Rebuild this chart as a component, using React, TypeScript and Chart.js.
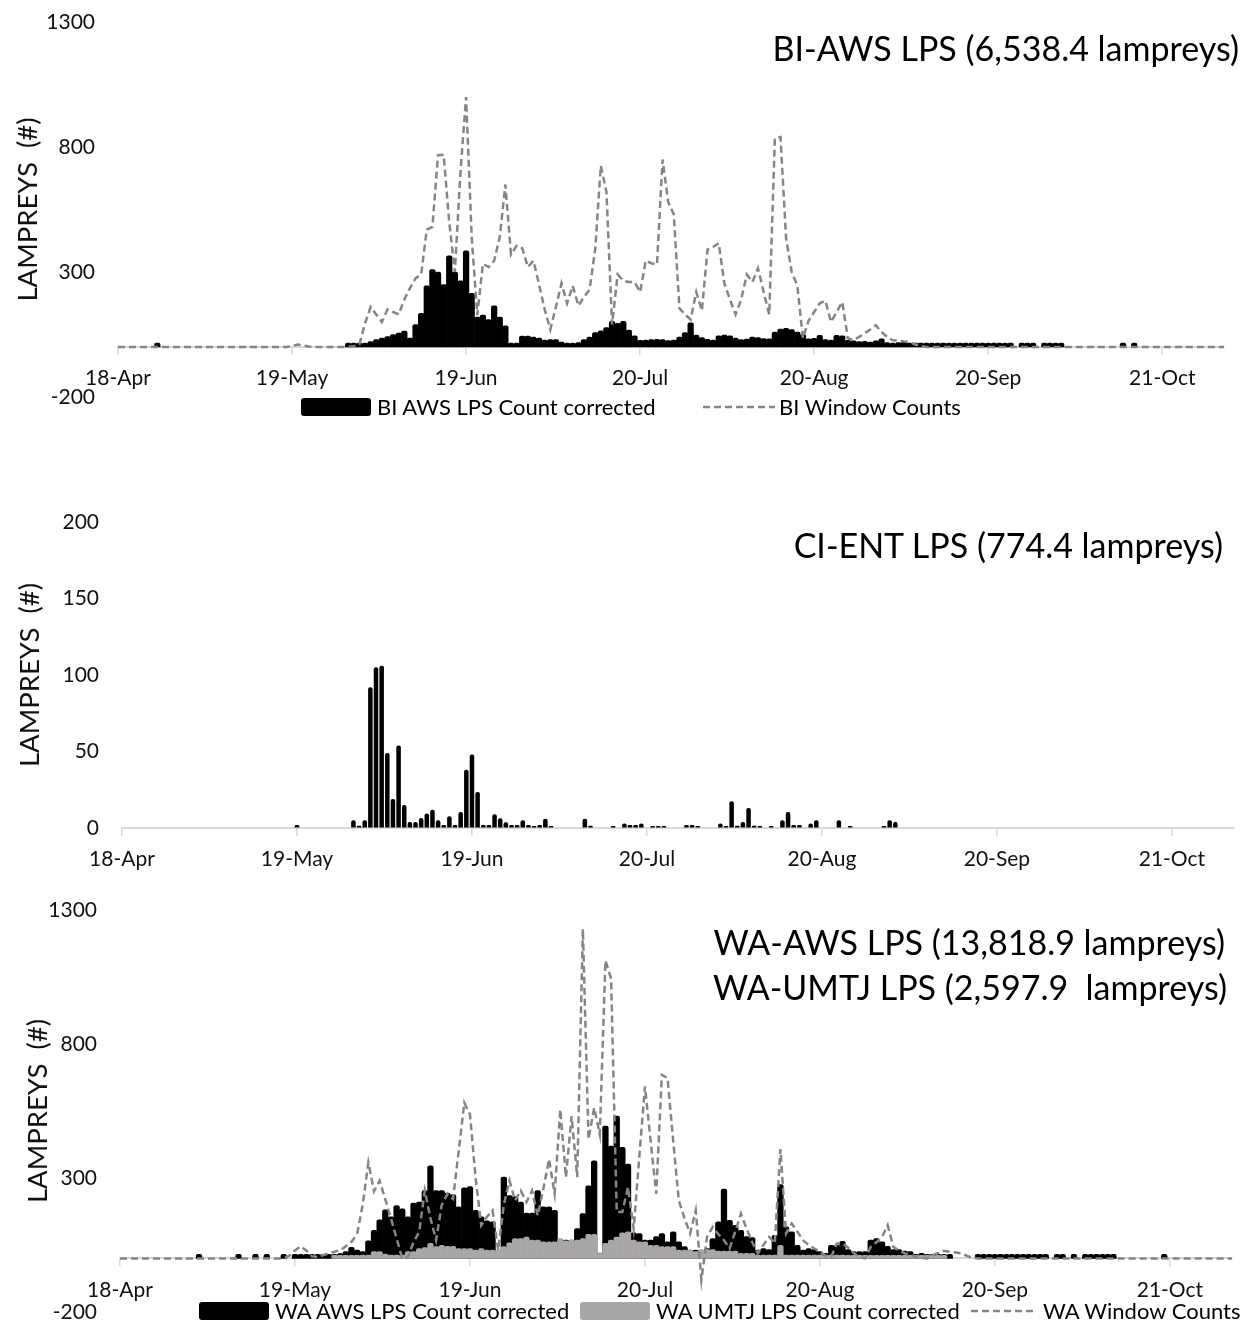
import React, { useEffect, useRef } from 'react';
import { Chart, registerables } from 'chart.js';

Chart.register(...registerables);

const FONT = 'Lato, "Open Sans", sans-serif';

// ---- axes ----
const X_MIN = 0; // 18-Apr
const X_MAX = 197; // 1-Nov
const X_TICK_DAYS = [0, 31, 62, 93, 124, 155, 186];
const X_TICK_LABELS = ['18-Apr', '19-May', '19-Jun', '20-Jul', '20-Aug', '20-Sep', '21-Oct'];
const Y_TICKS_WIDE = [-200, 300, 800, 1300];
const Y_TICKS_CI = [0, 50, 100, 150, 200];

// ---- BI (day index = days after 18-Apr) ----
const BI_AWS_START = 41;
const BI_AWS = [
  5, 5, 8, 13, 22, 30, 36, 42, 50, 56,
  64, 36, 90, 135, 245, 310, 300, 250, 365, 300,
  265, 385, 215, 120, 128, 110, 165, 120, 85, 8,
  2, 44, 44, 40, 36, 28, 30, 30, 20, 16,
  8, 18, 30, 40, 58, 65, 78, 103, 95, 103,
  68, 45, 27, 28, 30, 31, 30, 26, 28, 40,
  58, 97, 48, 38, 31, 28, 45, 48, 45, 36,
  30, 32, 40, 38, 34, 33, 60, 72, 75, 70,
  60, 50, 33, 35, 47, 30, 28, 47, 45, 27,
  25, 22, 23, 20, 25, 33, 18, 16, 18, 22,
  14, 12, 12, 10, 9, 8, 8, 7, 7, 6,
  6, 5, 5, 5, 4, 4, 3, 3, 3, null,
  2, 2, 2, null, 2, 2, 2, 2,
];
const BI_AWS_LONE_DAYS = [7, 179, 181];
const BI_AWS_LONE = [1, 1, 1];
const BI_WINDOW_START = 28;
const BI_WINDOW = [
  0, 0, 0, 4, 10, 6, 2, 0, 0, 0,
  0, 0, 0, 0, 3, 10, 95, 160, 130, 100,
  150, 140, 130, 190, 235, 275, 290, 470, 480, 767,
  769, 500, 300, 700, 1000, 440, 127, 333, 320, 345,
  440, 650, 370, 405, 395, 320, 345, 250, 150, 70,
  160, 255, 175, 245, 165, 200, 230, 390, 725, 620,
  90, 290, 265, 260, 260, 220, 345, 335, 330, 750,
  580, 530, 155, 130, 110, 220, 145, 390, 400, 415,
  255, 190, 130, 190, 290, 260, 315, 220, 130, 835,
  840, 435, 300, 245, 35, 105, 140, 175, 185, 100,
  140, 180, 35, 28, 40, 55, 70, 87, 60, 40,
  27, 25, 22, 20, 10, 4, 0, 0,
];

// ---- CI ----
const CI_ENT_START = 41;
const CI_ENT = [
  5, 1.5, 5, 92, 105, 106, 49, 19, 54, 15,
  4, 4, 6.5, 9.5, 12, 5, 2, 7.7, 2, 10.5,
  38, 48, 23.5, 2, 2, 9, 6.4, 3.7, 2, 2,
  5, 2, 1, 2, 6, 0.5, null, null, null, null,
  null, 6, 1.5, null, null, null, 1, null, 3, 2,
  2, 3, null, 1, 1, 1, null, null, null, 2,
  2, 1, null, null, null, 3, 1, 17.5, 1.5, 4,
  13, 1.5, 1, null, 1, null, 5, 10.5, 2, 2,
  null, 3, 5, null, null, null, 5, null, 1, null,
  null, null, null, null, 1, 5, 4,
];
const CI_ENT_LONE_DAYS = [31];
const CI_ENT_LONE = [2];

// ---- WA ----
const WA_AWS_START = 31;
const WA_AWS = [
  3, 4, 4, 5, 6, 6, 8, 8, 18, 25,
  41, 31, 25, 66, 105, 144, 181, 155, 197, 185,
  155, 206, 210, 253, 345, 253, 253, 244, 238, 192,
  263, 268, 179, 155, 140, 136, 31, 303, 234, 231,
  210, 169, 169, 253, 192, 192, 179, 68, 68, 68,
  111, 167, 271, 364, 20, 494, 419, 531, 414, 352,
  95, 93, 68, 68, 81, 93, 62, 99, 62, 44,
  31, 31, 31, 37, 74, 136, 259, 142, 123, 105,
  81, 78, 31, 37, 33, 86, 275, 118, 99, 49,
  31, 37, 33, 25, 19, 49, 49, 64, 33, 25,
  25, 25, 68, 74, 62, 45, 33, 33, 27, 25,
  12, 19, 8, 5, 4, 3, 2, null, null, null,
  null, 2, 2, 2, 2, 2, 2, 2, 2, 2,
  2, 2, 2, 2, null, 2, 2, null, 2, null,
  2, 2, 3, 2, 2, 2,
];
const WA_AWS_LONE_DAYS = [14, 21, 24, 26, 29, 185];
const WA_AWS_LONE = [2, 2, 2, 2, 2, 2];
const WA_UMTJ_START = 38;
const WA_UMTJ = [
  8, 8, 8, 8, 8, 12, 12, 25, 25, 16,
  12, 12, 12, 25, 25, 37, 40, 56, 44, 49,
  45, 45, 37, 37, 37, 31, 37, 31, 31, 31,
  44, 58, 74, 74, 80, 68, 68, 62, 62, 62,
  74, 66, 68, 68, 74, 90, 90, 19, 56, 68,
  80, 95, 99, 68, 62, 62, 49, 49, 44, 44,
  44, 31, 31, 31, 25, 33, 33, 33, 27, 27,
  27, 27, 19, 19, 19, 12, 12, 12, 12, 49,
  12, 12, 12, 12, 12, 12, 12, 12, 12, 12,
  12, 8, 8, 8, 8, 8, 8, 8, 8, 8,
  8, 8, 8, 8, 8, 8, 5, 4, 3,
];
const WA_WINDOW_START = 28;
const WA_WINDOW = [
  0, 0, 10, 30, 45, 30, 8, 5, 12, 19,
  25, 30, 45, 62, 90, 200, 358, 250, 290, 220,
  150, 75, 0, 5, 60, 99, 253, 150, 68, 200,
  240, 222, 400, 581, 537, 300, 123, 155, 179, 31,
  200, 290, 216, 253, 210, 253, 160, 260, 370, 241,
  556, 303, 531, 303, 1229, 445, 562, 463, 1111, 1044,
  173, 173, 266, 111, 380, 642, 440, 241, 685, 673,
  440, 216, 150, 93, 179, -80, 80, 117, 90, 68,
  37, 100, 167, 111, 60, 19, 50, 80, 56, 408,
  93, 130, 100, 68, 50, 37, 25, 10, 6, 56,
  56, 40, 20, 5, 0, 43, 60, 80, 124, 43,
  30, 19, 12, 6, 2, 0, 12, 20, 28, 25,
  22, 19, 10, 2, 0,
];

// ---- helpers to turn the arrays into {x,y} points ----
type Pt = { x: number; y: number };
const run = (start: number, vals: (number | null)[]): Pt[] =>
  vals.map((v, i) => ({ x: start + i, y: v as number })).filter((p) => p.y !== null);
const pairs = (days: number[], vals: number[]): Pt[] => days.map((d, i) => ({ x: d, y: vals[i] }));
const byX = (a: Pt, b: Pt) => a.x - b.x;
const windowLine = (start: number, vals: number[]): Pt[] =>
  [{ x: X_MIN, y: 0 }, ...run(start, vals), { x: X_MAX, y: 0 }].sort(byX);

const BLACK = '#000000';
const GRAY_BAR = '#a9a6a6';
const DASH_GRAY = '#858585';
const AXIS_GRAY = '#d9d9d9';

function barDataset(label: string, data: Pt[], color: string, order: number, ratio: number, minLen: number) {
  return {
    type: 'bar' as const,
    label,
    data,
    backgroundColor: color,
    borderWidth: 0,
    grouped: false,
    categoryPercentage: 1,
    barPercentage: ratio,
    minBarLength: minLen,
    borderRadius: { topLeft: 2, topRight: 2, bottomLeft: 0, bottomRight: 0 },
    order,
  };
}

function lineDataset(label: string, data: Pt[]) {
  return {
    type: 'line' as const,
    label,
    data,
    borderColor: DASH_GRAY,
    backgroundColor: DASH_GRAY,
    borderWidth: 2.5,
    borderDash: [7, 4],
    pointRadius: 0,
    fill: false,
    tension: 0,
    order: 0,
  };
}

type PanelOpts = {
  yMin: number;
  yMax: number;
  yTicks: number[];
  yWidth: number;
  padding: { top: number; bottom: number; left: number; right: number };
  titlePad: number;
};

function buildOptions(p: PanelOpts): any {
  return {
    animation: false,
    responsive: false,
    maintainAspectRatio: false,
    layout: { padding: p.padding },
    plugins: {
      legend: { display: false },
      tooltip: { enabled: false },
      title: { display: false },
    },
    scales: {
      x: {
        type: 'linear',
        min: X_MIN,
        max: X_MAX,
        offset: false,
        position: { y: 0 },
        afterBuildTicks: (axis: any) => {
          axis.ticks = X_TICK_DAYS.map((v) => ({ value: v }));
        },
        ticks: {
          autoSkip: false,
          maxRotation: 0,
          minRotation: 0,
          padding: 12,
          color: '#111',
          font: { family: FONT, size: 21 },
          callback: (v: number) => {
            const i = X_TICK_DAYS.indexOf(v);
            return i >= 0 ? X_TICK_LABELS[i] : '';
          },
        },
        grid: {
          display: true,
          drawOnChartArea: false,
          drawTicks: true,
          tickLength: 7,
          color: AXIS_GRAY,
          lineWidth: 1.5,
          offset: false,
        },
        border: { display: true, color: AXIS_GRAY, width: 2 },
      },
      y: {
        type: 'linear',
        min: p.yMin,
        max: p.yMax,
        afterBuildTicks: (axis: any) => {
          axis.ticks = p.yTicks.map((v) => ({ value: v }));
        },
        afterFit: (scale: any) => {
          scale.width = p.yWidth;
        },
        ticks: {
          padding: 0,
          color: '#111',
          font: { family: FONT, size: 21 },
          callback: (v: number) => String(v),
        },
        // invisible tick marks only provide the gap between labels and plot
        grid: {
          display: true,
          drawOnChartArea: false,
          drawTicks: true,
          tickLength: 23,
          color: 'rgba(0,0,0,0)',
        },
        border: { display: false },
        title: {
          display: true,
          text: 'LAMPREYS  (#)',
          color: '#111',
          font: { family: FONT, size: 27.5 },
          padding: { top: p.titlePad, bottom: 0 },
        },
      },
    },
  };
}

function makeBI(): any {
  const aws = [...run(BI_AWS_START, BI_AWS), ...pairs(BI_AWS_LONE_DAYS, BI_AWS_LONE)].sort(byX);
  return {
    type: 'bar',
    data: {
      datasets: [
        barDataset('BI AWS LPS Count corrected', aws, BLACK, 2, 1, 4),
        lineDataset('BI Window Counts', windowLine(BI_WINDOW_START, BI_WINDOW)),
      ],
    },
    options: buildOptions({
      yMin: -200,
      yMax: 1300,
      yTicks: Y_TICKS_WIDE,
      yWidth: 118,
      padding: { top: 22, bottom: 33, left: 0, right: 28 },
      titlePad: 12,
    }),
  };
}

function makeCI(): any {
  const ent = [...run(CI_ENT_START, CI_ENT), ...pairs(CI_ENT_LONE_DAYS, CI_ENT_LONE)].sort(byX);
  return {
    type: 'bar',
    data: {
      datasets: [barDataset('CI ENT LPS Count corrected', ent, BLACK, 1, 0.8, 2)],
    },
    options: buildOptions({
      yMin: 0,
      yMax: 200,
      yTicks: Y_TICKS_CI,
      yWidth: 122,
      padding: { top: 42, bottom: 62, left: 0, right: 18 },
      titlePad: 14,
    }),
  };
}

function makeWA(): any {
  const aws = [...run(WA_AWS_START, WA_AWS), ...pairs(WA_AWS_LONE_DAYS, WA_AWS_LONE)].sort(byX);
  return {
    type: 'bar',
    data: {
      datasets: [
        barDataset('WA AWS LPS Count corrected', aws, BLACK, 2, 1, 4),
        barDataset('WA UMTJ LPS Count corrected', run(WA_UMTJ_START, WA_UMTJ), GRAY_BAR, 1, 1, 3),
        lineDataset('WA Window Counts', windowLine(WA_WINDOW_START, WA_WINDOW)),
      ],
    },
    options: buildOptions({
      yMin: -200,
      yMax: 1300,
      yTicks: Y_TICKS_WIDE,
      yWidth: 120,
      padding: { top: 20, bottom: 19, left: 0, right: 20 },
      titlePad: 22,
    }),
  };
}

function ChartPanel({ top, height, make }: { top: number; height: number; make: () => any }) {
  const ref = useRef<HTMLCanvasElement | null>(null);
  useEffect(() => {
    if (!ref.current) return;
    const chart = new Chart(ref.current, make());
    return () => chart.destroy();
  }, []);
  return (
    <canvas
      ref={ref}
      width={1252}
      height={height}
      style={{ position: 'absolute', left: 0, top, width: 1252, height, display: 'block' }}
    />
  );
}

const textBase: React.CSSProperties = {
  position: 'absolute',
  fontFamily: FONT,
  color: '#000',
  whiteSpace: 'pre',
};

function Title({ text, right, centerY }: { text: string; right: number; centerY: number }) {
  return (
    <div style={{ ...textBase, right, top: centerY - 17, fontSize: 34, lineHeight: '34px' }}>{text}</div>
  );
}

function LegendText({ text, left, centerY }: { text: string; left: number; centerY: number }) {
  return (
    <div style={{ ...textBase, left, top: centerY - 11, fontSize: 22, lineHeight: '22px' }}>{text}</div>
  );
}

function LegendBox({ left, width, centerY, color }: { left: number; width: number; centerY: number; color: string }) {
  return (
    <div
      style={{
        position: 'absolute',
        left,
        top: centerY - 9,
        width,
        height: 18,
        background: color,
        borderRadius: 3,
      }}
    />
  );
}

function LegendDash({ left, width, centerY }: { left: number; width: number; centerY: number }) {
  return (
    <svg style={{ position: 'absolute', left, top: centerY - 3 }} width={width} height={6}>
      <line x1={0} y1={3} x2={width} y2={3} stroke={DASH_GRAY} strokeWidth={2.5} strokeDasharray="7 4" />
    </svg>
  );
}

export default function App() {
  return (
    <div
      style={{
        position: 'absolute',
        left: 0,
        top: 0,
        width: 1252,
        height: 1331,
        background: '#fff',
        overflow: 'hidden',
      }}
    >
      <ChartPanel top={0} height={430} make={makeBI} />
      <ChartPanel top={480} height={410} make={makeCI} />
      <ChartPanel top={890} height={441} make={makeWA} />

      <Title text="BI-AWS LPS (6,538.4 lampreys)" right={13} centerY={48} />
      <Title text="CI-ENT LPS (774.4 lampreys)" right={29} centerY={545} />
      <Title text="WA-AWS LPS (13,818.9 lampreys)" right={27} centerY={942} />
      <Title text="WA-UMTJ LPS (2,597.9  lampreys)" right={25} centerY={987} />

      <LegendBox left={301} width={70} centerY={407} color={BLACK} />
      <LegendText text="BI AWS LPS Count corrected" left={377} centerY={407} />
      <LegendDash left={703} width={72} centerY={407} />
      <LegendText text="BI Window Counts" left={779} centerY={407} />

      <LegendBox left={199} width={70} centerY={1311} color={BLACK} />
      <LegendText text="WA AWS LPS Count corrected" left={275} centerY={1311} />
      <LegendBox left={580} width={70} centerY={1311} color={GRAY_BAR} />
      <LegendText text="WA UMTJ LPS Count corrected" left={656} centerY={1311} />
      <LegendDash left={971} width={66} centerY={1311} />
      <LegendText text="WA Window Counts" left={1043} centerY={1311} />
    </div>
  );
}
